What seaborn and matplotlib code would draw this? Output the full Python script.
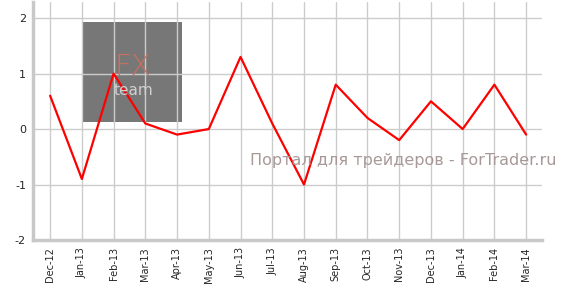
import matplotlib
matplotlib.use("Agg")
import matplotlib.pyplot as plt
import seaborn as sns
import pandas as pd
from matplotlib.patches import Rectangle

months = ["Dec-12", "Jan-13", "Feb-13", "Mar-13", "Apr-13", "May-13", "Jun-13", "Jul-13",
          "Aug-13", "Sep-13", "Oct-13", "Nov-13", "Dec-13", "Jan-14", "Feb-14", "Mar-14"]
values = [0.6, -0.9, 1.0, 0.1, -0.1, 0.0, 1.3, 0.1,
          -1.0, 0.8, 0.2, -0.2, 0.5, 0.0, 0.8, -0.1]
y_ticks = [-2, -1, 0, 1, 2]

sns.set_style("white")
plt.rcParams['font.family'] = ['DejaVu Sans']

df = pd.DataFrame({"idx": range(len(months)), "value": values})

fig = plt.figure(figsize=(5.65, 3.01), dpi=100)
ax = fig.add_axes([33/565, 1 - 240/301, (542 - 33)/565, (240 - 2)/301])

# logo box (watermark)
box = Rectangle((82/565, 1 - 122/301), 100/565, 100/301, transform=fig.transFigure,
                facecolor="#777777", edgecolor="none", zorder=0.1)
ax.add_patch(box)
fig.text(133/565, 1 - 75/301, "FX", transform=fig.transFigure, ha="center", va="baseline",
         fontsize=21, color="#c9705e", fontweight="light", zorder=0.2)
fig.text(133/565, 1 - 95/301, "team", transform=fig.transFigure, ha="center", va="baseline",
         fontsize=11, color="#d0d0d0", zorder=0.2)

sns.lineplot(data=df, x="idx", y="value", color="red", linewidth=1.6, ax=ax, zorder=3)

ax.set_xlim(-0.54, 15.5)
ax.set_ylim(-2, 2.29)
ax.set_yticks(y_ticks)
ax.set_yticklabels([str(v) for v in y_ticks], fontsize=8)
ax.set_xticks(range(len(months)))
ax.set_xticklabels(months, rotation=90, fontsize=7)
ax.set_xlabel("")
ax.set_ylabel("")
ax.grid(True, color="#cccccc", linewidth=1.0)
ax.set_axisbelow(True)
for s in ["top", "right"]:
    ax.spines[s].set_visible(False)
for s in ["left", "bottom"]:
    ax.spines[s].set_color("#c8c8c8")
    ax.spines[s].set_linewidth(2.5)
ax.tick_params(axis="both", length=3, color="#c8c8c8", pad=2)

fig.text(403/565, 1 - 160/301, "Портал для трейдеров - ForTrader.ru", ha="center", va="center",
         fontsize=11.5, color="#a89898", zorder=5)

fig.savefig("out.png", dpi=100)
